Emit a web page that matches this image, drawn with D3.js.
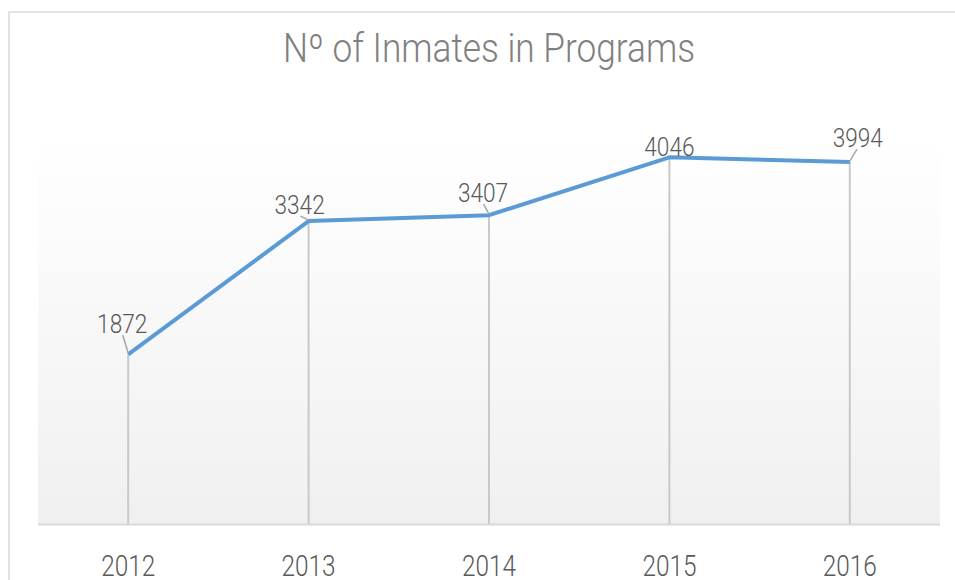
<!DOCTYPE html>
<html>
<head>
<meta charset="utf-8">
<script src="https://cdn.jsdelivr.net/npm/d3@7"></script>
<style>
  html, body { margin: 0; padding: 0; background: #fff; }
  svg { display: block; }
  .txt { font-family: "Roboto", "Open Sans", sans-serif; }
</style>
</head>
<body>
<svg id="chart" width="955" height="580"></svg>
<script>
// Data
const years = ["2012", "2013", "2014", "2015", "2016"];
const inmates = [1872, 3342, 3407, 4046, 3994];
// label offsets (dx, dy) from the point, Excel-ish placement
const labelOffsets = [[-6, -21], [-9, -7], [-6, -13], [0, -1], [8, -15]];

const svg = d3.select("#chart"),
    width = +svg.attr("width"),
    height = +svg.attr("height");

const plot = { left: 38, right: 940, top: 137, bottom: 524 };

// squeeze text horizontally so it looks like the narrow office font
function squeeze(sel, k) {
    sel.each(function() {
        const w = this.getComputedTextLength();
        d3.select(this).attr("textLength", w * k).attr("lengthAdjust", "spacingAndGlyphs");
    });
}

// outer chart border
svg.append("rect")
    .attr("x", 9).attr("y", 12)
    .attr("width", 960).attr("height", 600)
    .attr("fill", "#fff")
    .attr("stroke", "#d9d9d9")
    .attr("stroke-width", 1.5);

// Title
svg.append("text")
    .attr("class", "txt")
    .attr("x", 489).attr("y", 62)
    .attr("text-anchor", "middle")
    .attr("fill", "#808080")
    .style("font-size", "40px")
    .style("font-weight", 300)
    .text("Nº of Inmates in Programs")
    .attr("textLength", 412)
    .attr("lengthAdjust", "spacingAndGlyphs");

// plot area gradient
const defs = svg.append("defs");
const grad = defs.append("linearGradient")
    .attr("id", "bg").attr("x1", 0).attr("y1", 0).attr("x2", 0).attr("y2", 1);
grad.append("stop").attr("offset", "0%").attr("stop-color", "#ffffff");
grad.append("stop").attr("offset", "100%").attr("stop-color", "#f0f0f0");

svg.append("rect")
    .attr("x", plot.left).attr("y", plot.top)
    .attr("width", plot.right - plot.left)
    .attr("height", plot.bottom - plot.top)
    .attr("fill", "url(#bg)");

// Scales
const x = d3.scaleBand().domain(years).range([plot.left, plot.right]);
const y = d3.scaleLinear().domain([0, 4270]).range([plot.bottom, plot.top]);
const cx = d => x(d) + x.bandwidth() / 2;

// drop lines
svg.append("g")
    .selectAll("line")
    .data(years)
    .join("line")
    .attr("x1", d => cx(d)).attr("x2", d => cx(d))
    .attr("y1", (d, i) => y(inmates[i]))
    .attr("y2", y(0))
    .attr("stroke", "#c9c9c9")
    .attr("stroke-width", 2);

// baseline
svg.append("line")
    .attr("x1", plot.left).attr("x2", plot.right)
    .attr("y1", y(0) + 0.5).attr("y2", y(0) + 0.5)
    .attr("stroke", "#d9d9d9")
    .attr("stroke-width", 2);

// x axis labels
const xAxis = d3.axisBottom(x).tickSize(0);
const gx = svg.append("g")
    .attr("transform", `translate(0,${y(0)})`)
    .call(xAxis);
gx.select(".domain").remove();
gx.selectAll("text")
    .attr("class", "txt")
    .attr("y", 52)
    .attr("dy", null)
    .attr("fill", "#595959")
    .style("font-size", "29px")
    .style("font-weight", 300)
    .call(squeeze, 0.84);

// line
const line = d3.line()
    .x((d, i) => cx(years[i]))
    .y(d => y(d));

svg.append("path")
    .datum(inmates)
    .attr("d", line)
    .attr("fill", "none")
    .attr("stroke", "#5b9bd5")
    .attr("stroke-width", 4)
    .attr("stroke-linejoin", "round");

// leader lines + data labels
const lab = svg.append("g");
inmates.forEach(function(v, i) {
    const px = cx(years[i]), py = y(v);
    const o = labelOffsets[i];
    if (i != 3) {
        lab.append("line")
            .attr("x1", px).attr("y1", py - 1)
            .attr("x2", px + o[0] * 0.9).attr("y2", py + o[1] + 2)
            .attr("stroke", "#a6a6a6")
            .attr("stroke-width", 1.5);
    }
    lab.append("text")
        .attr("class", "txt")
        .attr("x", px + o[0])
        .attr("y", py + o[1])
        .attr("text-anchor", "middle")
        .attr("fill", "#595959")
        .style("font-size", "26px")
        .style("font-weight", 300)
        .text(v)
        .call(squeeze, 0.87);
});
</script>
</body>
</html>
